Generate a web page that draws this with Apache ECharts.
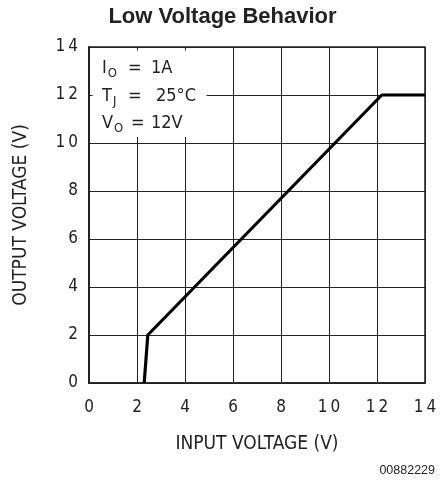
<!DOCTYPE html>
<html><head><meta charset="utf-8">
<script src="https://cdn.jsdelivr.net/npm/echarts@6/dist/echarts.min.js"></script>
<style>html,body{margin:0;padding:0;background:#fff}#c{width:445px;height:480px}</style>
</head><body><div id="c"></div>
<script>
const inputVoltage = [2.3, 2.45, 12.2, 14];
const outputVoltage = [0, 2, 12, 12];
const xTicks = [0, 2, 4, 6, 8, 10, 12, 14];
const yTicks = [0, 2, 4, 6, 8, 10, 12, 14];
const titleText = 'Low Voltage Behavior';
const xName = 'INPUT VOLTAGE (V)';
const yName = 'OUTPUT VOLTAGE (V)';
const figId = '00882229';
const condLabels = [['I', 'O'], ['T', 'J'], ['V', 'O']];
const condValues = ['1A', '25°C', '12V'];

const F = '"Liberation Sans Narrow","DejaVu Sans Condensed",sans-serif';
const sp = s => s.split('').join('\u2009');
const chart = echarts.init(document.getElementById('c'));

const rowTops = [59, 87, 114];
const graphics = [];
condLabels.forEach((lab, i) => {
  graphics.push({ type: 'text', left: 102, top: rowTops[i], z: 10,
    style: { rich: {
        a: { fontFamily: F, fontSize: 18, fill: '#222' },
        s: { fontFamily: F, fontSize: 13, fill: '#222', padding: [11, 0, 0, 1] } },
      text: '{a|' + lab[0] + '}{s|' + lab[1] + '}' } });
  graphics.push({ type: 'text', left: i === 2 ? 131 : 128, top: rowTops[i], z: 10,
    style: { text: '=', fontFamily: F, fontSize: 18, fill: '#222' } });
  graphics.push({ type: 'text', left: i === 1 ? 156 : 151, top: rowTops[i], z: 10,
    style: { text: condValues[i], fontFamily: F, fontSize: 18, fill: '#222' } });
});
graphics.push({ type: 'text', right: 10, top: 464, z: 10,
  style: { text: figId, fontFamily: 'Liberation Sans, Arial, sans-serif', fontSize: 12.5, fill: '#222' } });

chart.setOption({
  animation: false,
  backgroundColor: '#fff',
  title: { text: titleText, left: 'center', top: 1,
    textStyle: { fontFamily: 'Liberation Sans, Arial, sans-serif', fontWeight: 'bold', fontSize: 22, color: '#222' } },
  grid: { left: 89, top: 47, width: 336, height: 336, show: true, borderColor: '#222', borderWidth: 1.5, backgroundColor: 'transparent' },
  xAxis: {
    type: 'value', min: 0, max: 14, interval: 2,
    name: xName, nameLocation: 'middle', nameGap: 52,
    nameTextStyle: { fontFamily: F, fontSize: 19, color: '#222' },
    axisLine: { show: true, lineStyle: { color: '#222', width: 1.5 } },
    axisTick: { show: false },
    splitLine: { show: true, lineStyle: { color: '#222', width: 1 } },
    axisLabel: { fontFamily: F, fontSize: 17, color: '#222', margin: 16,
      formatter: v => xTicks.includes(v) ? sp(String(v)) : '' }
  },
  yAxis: {
    type: 'value', min: 0, max: 14, interval: 2,
    name: yName, nameLocation: 'middle', nameGap: 58, nameRotate: 90,
    nameTextStyle: { fontFamily: F, fontSize: 19, color: '#222' },
    axisLine: { show: true, lineStyle: { color: '#222', width: 2 } },
    axisTick: { show: false },
    splitLine: { show: true, lineStyle: { color: '#222', width: 1 } },
    axisLabel: { fontFamily: F, fontSize: 17, color: '#222', margin: 11,
      formatter: v => yTicks.includes(v) ? sp(String(v)) : '' }
  },
  series: [{
    type: 'line',
    data: inputVoltage.map((x, i) => [x, outputVoltage[i]]),
    symbol: 'none',
    lineStyle: { color: '#000', width: 3.2 },
    z: 5,
    markArea: {
      silent: true,
      itemStyle: { color: '#fff', opacity: 1 },
      data: [[{ coord: [0.15, 13.85] }, { coord: [4.9, 10.25] }]],
      z: 1
    }
  }],
  graphic: graphics
});
</script></body></html>
